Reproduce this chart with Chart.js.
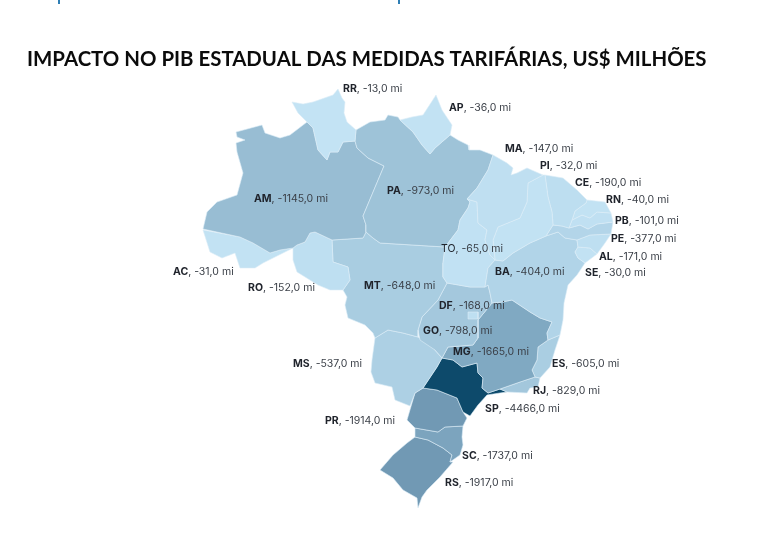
<!DOCTYPE html>
<html lang="pt-BR">
<head>
<meta charset="utf-8">
<title>Impacto no PIB estadual</title>
<style>
    html, body { margin: 0; padding: 0; background: #fff; }
    canvas { display: block; }
</style>
<script src="https://cdn.jsdelivr.net/npm/chart.js@4/dist/chart.umd.min.js"></script>
</head>
<body>
<canvas id="chart" width="762" height="548"></canvas>
<script>
const chartTitle = "IMPACTO NO PIB ESTADUAL DAS MEDIDAS TARIFÁRIAS, US$ MILHÕES";

const stateNames = ["RR", "AP", "MA", "PI", "CE", "RN", "PB", "PE", "AL", "SE", "BA", "TO", "PA", "AM",
    "AC", "RO", "MT", "DF", "GO", "MG", "MS", "ES", "RJ", "SP", "PR", "SC", "RS"];

const stateValues = [-13, -36, -147, -32, -190, -40, -101, -377, -171, -30, -404, -65, -973, -1145,
    -31, -152, -648, -168, -798, -1665, -537, -605, -829, -4466, -1914, -1737, -1917];

// Where each label starts, in the same map units as the outlines (x, baseline y)
const labelSpots = [[343, 92], [449, 111], [505, 152], [540, 169], [575, 186], [606, 203], [615, 224],
    [611, 242], [599, 260], [585, 276], [495, 275], [441, 252], [387, 194], [254, 202],
    [173, 275], [248, 291], [364, 289], [439, 309], [423, 334], [453, 355], [293, 367],
    [552, 367], [533, 394], [485, 412], [325, 424], [462, 459], [445, 486]];

// Labels the reference does not set in bold
const plainLabels = ["TO"];

// State outlines, map units are the picture's pixels
const stateOutlines = {
    RR: [[292, 102], [303, 104], [313, 102], [333, 95], [338, 89], [342, 98], [345, 102], [344, 113], [347, 122], [356, 130], [355, 141], [343, 142], [338, 152], [330, 152], [327, 160], [318, 150], [313, 128], [307, 122], [298, 113]],
    AP: [[400, 120], [412, 117], [423, 115], [436, 95], [442, 110], [452, 125], [450, 135], [435, 148], [430, 154], [422, 145], [413, 132]],
    MA: [[493, 155], [507, 163], [513, 168], [511, 175], [517, 173], [527, 168], [543, 175], [528, 183], [527, 202], [520, 218], [498, 227], [493, 240], [495, 260], [490, 255], [485, 240], [487, 230], [478, 223], [477, 202], [467, 199], [477, 188], [488, 170]],
    PI: [[543, 175], [545, 175], [548, 197], [552, 212], [553, 225], [546, 236], [530, 243], [513, 253], [503, 261], [495, 260], [493, 240], [498, 227], [520, 218], [527, 202], [528, 183]],
    CE: [[545, 175], [563, 178], [577, 190], [587, 200], [586, 203], [575, 211], [572, 220], [569, 228], [562, 226], [553, 225], [552, 212], [548, 197]],
    RN: [[587, 200], [605, 202], [611, 213], [597, 212], [590, 218], [582, 215], [572, 220], [575, 211], [586, 203]],
    PB: [[572, 220], [582, 215], [590, 218], [597, 212], [611, 213], [613, 222], [597, 224], [588, 229], [580, 225], [569, 228]],
    PE: [[553, 225], [562, 226], [569, 228], [580, 225], [588, 229], [597, 224], [613, 222], [611, 234], [590, 235], [577, 240], [565, 238], [558, 232], [546, 236]],
    AL: [[577, 240], [590, 235], [611, 234], [605, 243], [597, 254], [590, 248], [578, 247]],
    SE: [[578, 247], [590, 248], [597, 254], [585, 263], [578, 258], [575, 252]],
    BA: [[495, 260], [503, 261], [513, 253], [530, 243], [546, 236], [558, 232], [565, 238], [577, 240], [578, 247], [575, 252], [578, 258], [585, 263], [577, 275], [568, 285], [564, 303], [563, 320], [560, 335], [548, 340], [547, 333], [552, 322], [540, 318], [530, 312], [512, 300], [502, 302], [492, 303], [490, 293], [488, 285], [485, 287], [488, 268]],
    TO: [[467, 199], [477, 202], [478, 223], [487, 230], [485, 240], [490, 255], [495, 260], [488, 268], [485, 287], [470, 287], [447, 283], [443, 277], [443, 263], [445, 247], [458, 230], [460, 220], [468, 208], [470, 202]],
    PA: [[355, 141], [356, 130], [370, 122], [385, 120], [388, 115], [398, 117], [400, 120], [413, 132], [422, 145], [430, 154], [435, 148], [450, 135], [458, 140], [468, 145], [469, 150], [480, 150], [493, 155], [488, 170], [477, 188], [467, 199], [470, 202], [468, 208], [460, 220], [458, 230], [445, 247], [380, 243], [373, 238], [366, 232], [366, 225], [363, 216], [384, 166], [368, 158], [357, 148]],
    AM: [[236, 132], [262, 125], [265, 133], [280, 138], [290, 135], [307, 122], [313, 128], [318, 150], [327, 160], [330, 152], [338, 152], [343, 142], [355, 141], [357, 148], [368, 158], [384, 166], [363, 216], [366, 225], [366, 232], [363, 238], [332, 240], [315, 232], [310, 233], [305, 242], [297, 245], [293, 248], [280, 250], [270, 253], [253, 243], [240, 237], [203, 229], [207, 212], [217, 202], [237, 195], [243, 173], [237, 152], [236, 143], [245, 140], [237, 137]],
    AC: [[203, 230], [240, 237], [253, 243], [270, 253], [280, 250], [293, 248], [283, 253], [263, 263], [255, 268], [240, 268], [235, 253], [222, 258], [210, 252]],
    RO: [[315, 232], [332, 240], [333, 262], [348, 267], [350, 280], [343, 290], [330, 290], [318, 285], [297, 272], [293, 260], [293, 248], [297, 245], [305, 242], [310, 233]],
    MT: [[332, 240], [363, 238], [366, 232], [373, 238], [380, 243], [445, 247], [443, 263], [443, 277], [447, 283], [438, 300], [422, 317], [418, 330], [418, 337], [403, 333], [388, 330], [375, 338], [373, 333], [365, 325], [348, 318], [345, 305], [347, 297], [343, 290], [350, 280], [348, 267], [333, 262]],
    GO: [[447, 283], [470, 287], [485, 287], [488, 285], [490, 293], [492, 303], [478, 320], [478, 338], [473, 345], [448, 347], [442, 358], [435, 350], [420, 340], [418, 330], [422, 317], [438, 300]],
    DF: [[468, 312], [478, 312], [478, 319], [468, 319]],
    MG: [[492, 303], [502, 302], [512, 300], [530, 312], [540, 318], [552, 322], [547, 333], [548, 340], [538, 347], [537, 360], [532, 370], [535, 377], [520, 382], [500, 389], [488, 393], [482, 388], [483, 378], [478, 373], [477, 363], [462, 367], [453, 360], [442, 358], [448, 347], [473, 345], [478, 338], [478, 320]],
    MS: [[375, 338], [388, 330], [403, 333], [418, 337], [433, 348], [442, 358], [437, 367], [423, 388], [415, 393], [410, 406], [395, 400], [392, 387], [375, 383], [371, 372], [372, 360]],
    ES: [[548, 340], [560, 335], [555, 350], [550, 367], [540, 378], [535, 377], [532, 370], [537, 360], [538, 347]],
    RJ: [[535, 377], [540, 378], [538, 387], [530, 388], [527, 393], [507, 392], [500, 389], [520, 382]],
    SP: [[442, 358], [453, 360], [462, 367], [477, 363], [478, 373], [483, 378], [482, 388], [488, 393], [500, 389], [507, 392], [500, 393], [487, 395], [478, 405], [470, 416], [463, 412], [457, 398], [437, 390], [423, 388], [437, 367]],
    PR: [[423, 388], [437, 390], [457, 398], [463, 412], [467, 418], [463, 426], [445, 427], [438, 432], [415, 428], [407, 420], [412, 403], [415, 393]],
    SC: [[415, 428], [438, 432], [445, 427], [463, 426], [462, 437], [463, 445], [460, 455], [450, 462], [452, 455], [443, 448], [428, 440], [415, 437]],
    RS: [[415, 437], [428, 440], [443, 448], [452, 455], [450, 462], [453, 462], [440, 477], [427, 490], [422, 497], [418, 508], [417, 498], [403, 490], [393, 478], [380, 470], [393, 455], [407, 443]],
};

// Colour ramp: size of the loss to shade
const rampValues = [0, 200, 404, 648, 973, 1145, 1665, 1917, 4466];
const rampColors = ["#c3e3f4", "#bddef0", "#b1d4e8", "#a9cde1", "#9ec3d8", "#98bdd3", "#80a9c2", "#7199b4", "#0d4a6b"];

function hexToRgb(hex) {
    return [1, 3, 5].map((i) => parseInt(hex.slice(i, i + 2), 16));
}

// Blends between the two ramp colours around a value
function valueToColor(value) {
    const size = Math.abs(value);
    let i = 0;
    while (i < rampValues.length - 2 && size > rampValues[i + 1]) i++;
    const t = (size - rampValues[i]) / (rampValues[i + 1] - rampValues[i]);
    const a = hexToRgb(rampColors[i]);
    const b = hexToRgb(rampColors[i + 1]);
    const mixed = a.map((channel, k) => Math.round(channel + (b[k] - channel) * t));
    return `rgb(${mixed.join(",")})`;
}

function formatValue(value) {
    return value.toFixed(1).replace(".", ",");
}

// One filled closed line per state
const datasets = stateNames.map((name, i) => {
    const outline = stateOutlines[name];
    const closed = outline.concat([outline[0]]);
    return {
        label: name,
        data: closed.map(([x, y]) => ({ x, y })),
        showLine: true,
        fill: "shape",
        tension: 0,
        backgroundColor: valueToColor(stateValues[i]),
        borderColor: "rgba(220,237,247,0.75)",
        borderWidth: 0.8,
        borderJoinStyle: "round",
        pointRadius: 0,
        pointHoverRadius: 0,
    };
});

// Writes the "XX, -0,0 mi" labels through the scales, over the map
const stateLabels = {
    id: "stateLabels",
    afterDatasetsDraw(chart) {
        const { ctx, scales } = chart;
        ctx.save();
        ctx.textBaseline = "alphabetic";
        stateNames.forEach((name, i) => {
            let x = scales.x.getPixelForValue(labelSpots[i][0]);
            const y = scales.y.getPixelForValue(labelSpots[i][1]);
            ctx.font = (plainLabels.includes(name) ? "400" : "700") + " 10.5px Inter";
            ctx.fillStyle = "#20242c";
            ctx.fillText(name, x, y);
            x += ctx.measureText(name).width;
            ctx.font = "400 10.5px Inter";
            ctx.fillStyle = "#3a3f47";
            ctx.fillText(`, ${formatValue(stateValues[i])} mi`, x, y);
        });
        ctx.restore();
    },
};

// The descenders of the cropped heading at the very top of the picture
const croppedHeading = {
    id: "croppedHeading",
    afterDraw(chart) {
        const { ctx } = chart;
        ctx.save();
        ctx.fillStyle = "#2f7fb5";
        ctx.fillRect(58, 0, 2, 4);
        ctx.fillRect(398, 0, 2, 4);
        ctx.restore();
    },
};

const titleSize = 20.4;
const titleTop = 47;
const titleLeft = 27;
const areaTop = titleTop + titleSize * 1.2;

new Chart(document.querySelector("#chart"), {
    type: "scatter",
    data: { datasets },
    plugins: [stateLabels, croppedHeading],
    options: {
        responsive: false,
        animation: false,
        devicePixelRatio: 1,
        layout: { padding: { left: titleLeft } },
        events: [],
        scales: {
            x: { type: "linear", display: false, min: titleLeft, max: 762 },
            y: { type: "linear", display: false, min: areaTop, max: 548, reverse: true },
        },
        plugins: {
            legend: { display: false },
            tooltip: { enabled: false },
            title: {
                display: true,
                text: chartTitle,
                align: "start",
                color: "#0b0b0b",
                padding: { top: titleTop, bottom: 0 },
                font: { family: "Lato", size: titleSize, weight: "700", lineHeight: 1.2 },
            },
        },
    },
});
</script>
</body>
</html>
